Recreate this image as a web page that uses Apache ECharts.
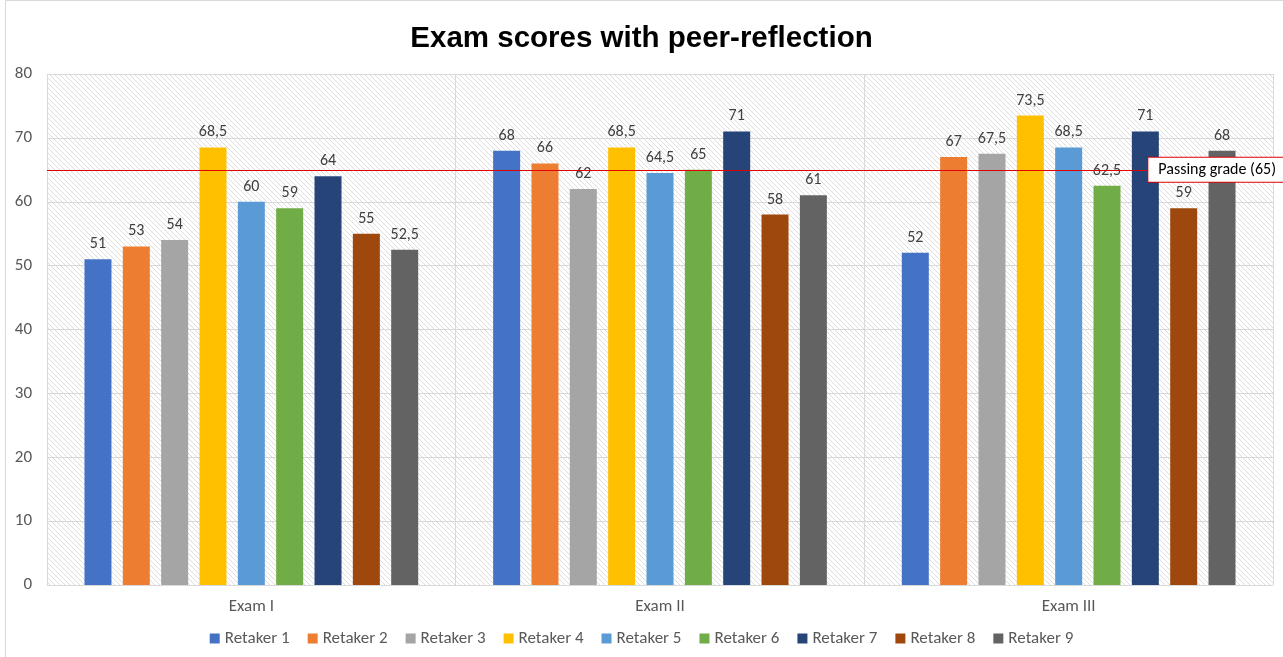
<!DOCTYPE html>
<html>
<head>
<meta charset="utf-8">
<script src="https://cdn.jsdelivr.net/npm/echarts@6.0.0/dist/echarts.min.js"></script>
<style>
  html, body { margin: 0; padding: 0; background: #fff; }
  #mainPlot { width: 1283px; height: 657px; }
</style>
</head>
<body>
<div id="mainPlot"></div>
<script>
const exams = ["Exam I", "Exam II", "Exam III"];
const retakers = ["Retaker 1", "Retaker 2", "Retaker 3", "Retaker 4", "Retaker 5", "Retaker 6", "Retaker 7", "Retaker 8", "Retaker 9"];
const retaker1 = [51, 68, 52];
const retaker2 = [53, 66, 67];
const retaker3 = [54, 62, 67.5];
const retaker4 = [68.5, 68.5, 73.5];
const retaker5 = [60, 64.5, 68.5];
const retaker6 = [59, 65, 62.5];
const retaker7 = [64, 71, 71];
const retaker8 = [55, 58, 59];
const retaker9 = [52.5, 61, 68];
const passingGrade = 65;
const yTicks = [0, 10, 20, 30, 40, 50, 60, 70, 80];

const colors = ["#4472C4", "#ED7D31", "#A5A5A5", "#FFC000", "#5B9BD5", "#70AD47", "#264478", "#9E480E", "#636363"];
const seriesValues = [retaker1, retaker2, retaker3, retaker4, retaker5, retaker6, retaker7, retaker8, retaker9];
const font = "Carlito, Lato, 'Open Sans', sans-serif";

// diagonal hatch for the plot background
function hatch() {
  const c = document.createElement("canvas");
  c.width = 5; c.height = 5;
  const ctx = c.getContext("2d");
  ctx.fillStyle = "#ffffff";
  ctx.fillRect(0, 0, 5, 5);
  ctx.strokeStyle = "#dddddd";
  ctx.lineWidth = 1;
  ctx.beginPath();
  ctx.moveTo(-1, -1); ctx.lineTo(6, 6);
  ctx.moveTo(-1, 4); ctx.lineTo(1, 6);
  ctx.moveTo(4, -1); ctx.lineTo(6, 1);
  ctx.stroke();
  return c;
}

const chart = echarts.init(document.getElementById("mainPlot"));

const series = seriesValues.map((vals, i) => ({
  name: retakers[i],
  type: "bar",
  data: vals,
  barWidth: 27,
  barGap: "42%",
  itemStyle: { color: colors[i] },
  label: {
    show: true,
    position: "top",
    distance: 7,
    color: "#404040",
    fontSize: 16,
    fontFamily: font,
    formatter: (p) => String(p.value).replace(".", ",")
  }
}));

series[0].markLine = {
  silent: true,
  symbol: "none",
  lineStyle: { color: "#E00000", width: 1, type: "solid" },
  label: {
    show: true,
    position: "insideEnd",
    distance: -11,
    formatter: "Passing grade (" + passingGrade + ")",
    color: "#000",
    fontSize: 16,
    fontFamily: font,
    backgroundColor: "#fff",
    borderColor: "#E00000",
    borderWidth: 1,
    padding: [4, 8, 4, 10]
  },
  data: [{ yAxis: passingGrade }]
};

chart.setOption({
  backgroundColor: "#fff",
  title: {
    text: "Exam scores with peer-reflection",
    left: "center",
    top: 19,
    textStyle: { fontFamily: "'Liberation Sans', Arial, sans-serif", fontSize: 29.5, fontWeight: "bold", color: "#000" }
  },
  legend: {
    bottom: 5,
    left: "center",
    itemWidth: 10,
    itemHeight: 10,
    itemGap: 18,
    icon: "rect",
    textStyle: { fontFamily: font, fontSize: 17, color: "#595959" },
    data: retakers
  },
  graphic: [{
    type: "rect",
    shape: { x: 5.5, y: 0.5, width: 1290, height: 700 },
    style: { fill: "none", stroke: "#d9d9d9", lineWidth: 1 },
    silent: true
  }],
  grid: {
    left: 47,
    right: 10,
    top: 74,
    bottom: 72,
    show: true,
    borderWidth: 0,
    backgroundColor: { image: hatch(), repeat: "repeat" }
  },
  xAxis: {
    type: "category",
    data: exams,
    axisLine: { lineStyle: { color: "#d9d9d9" } },
    axisTick: { show: false },
    splitLine: { show: true, lineStyle: { color: "#d9d9d9" } },
    axisLabel: { fontFamily: font, fontSize: 17, color: "#595959", margin: 13 }
  },
  yAxis: {
    type: "value",
    min: yTicks[0],
    max: yTicks[yTicks.length - 1],
    interval: 10,
    axisLine: { show: false },
    axisTick: { show: false },
    splitLine: { lineStyle: { color: "#d9d9d9" } },
    axisLabel: { fontFamily: font, fontSize: 17, color: "#595959", margin: 15 }
  },
  series: series
});
</script>
</body>
</html>
